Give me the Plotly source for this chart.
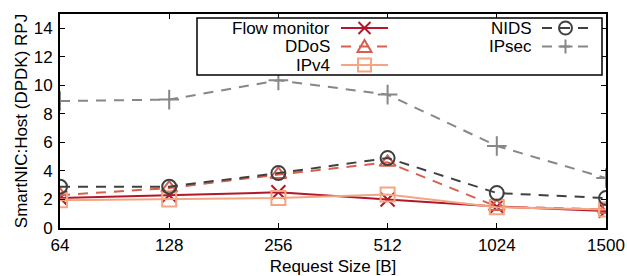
import plotly.graph_objects as go

sizes = ["64", "128", "256", "512", "1024", "1500"]
flow_monitor = [2.1, 2.3, 2.5, 2.0, 1.5, 1.2]
ddos = [2.3, 2.8, 3.75, 4.6, 1.5, 1.3]
ipv4 = [1.95, 2.0, 2.1, 2.35, 1.45, 1.3]
nids = [2.9, 2.9, 3.85, 4.9, 2.45, 2.1]
ipsec = [8.9, 9.0, 10.35, 9.35, 5.75, 3.5]

series = [
    ("Flow monitor", flow_monitor, "#b2182b", "solid", "x-thin-open"),
    ("DDoS", ddos, "#d6604d", "10px,8px", "triangle-up-open"),
    ("IPv4", ipv4, "#f4a582", "solid", "square-open"),
    ("NIDS", nids, "#404040", "10px,8px", "circle-open"),
    ("IPsec", ipsec, "#878787", "10px,8px", "cross-thin-open"),
]

FONT = "Liberation Sans, Arial, sans-serif"
FS = 17
fig = go.Figure()
for name, vals, col, dash, sym in series:
    fig.add_trace(go.Scatter(
        x=sizes, y=vals, name=name, mode="lines+markers",
        line=dict(color=col, width=2, dash=dash),
        marker=dict(symbol=sym, size=14, color=col, line=dict(color=col, width=2)),
        showlegend=False,
    ))

# plot area in pixels
L, R, T, B = 60, 606, 14, 228
def px(x):
    return (x - L) / (R - L)
def py(y):
    return (B - y) / (B - T)

shapes = []
annotations = []
# legend box
shapes.append(dict(type="rect", xref="paper", yref="paper", x0=px(197), x1=px(602),
                   y0=py(75), y1=py(18), fillcolor="white",
                   line=dict(color="black", width=1.5), layer="above"))

legend_pos = [
    (331, 341, 388, 28),
    (331, 341, 388, 46.5),
    (331, 341, 388, 65),
    (533, 542, 589, 28),
    (533, 542, 589, 46.5),
]
marker_paths = {
    "x-thin-open": "M -6,-6 L 6,6 M -6,6 L 6,-6",
    "triangle-up-open": "M -7,-5.5 L 7,-5.5 L 0,6.5 Z",
    "cross-thin-open": "M -7,0 L 7,0 M 0,-7 L 0,7",
}
for (name, vals, col, dash, sym), (tx, sx0, sx1, ry) in zip(series, legend_pos):
    annotations.append(dict(xref="paper", yref="paper", x=px(tx), y=py(ry),
                            xanchor="right", yanchor="middle", text=name, showarrow=False,
                            height=17, borderpad=0,
                            font=dict(family=FONT, size=FS, color="black")))
    shapes.append(dict(type="line", xref="paper", yref="paper", x0=px(sx0), x1=px(sx1),
                       y0=py(ry), y1=py(ry), line=dict(color=col, width=2, dash=dash),
                       layer="above"))
    cx, cy = px((sx0 + sx1) / 2), py(ry)
    common = dict(xref="paper", yref="paper", xsizemode="pixel", ysizemode="pixel",
                  xanchor=cx, yanchor=cy, line=dict(color=col, width=2), layer="above")
    if sym == "circle-open":
        shapes.append(dict(type="circle", x0=-6.5, x1=6.5, y0=-6.5, y1=6.5, **common))
    elif sym == "square-open":
        shapes.append(dict(type="rect", x0=-6.5, x1=6.5, y0=-6.5, y1=6.5, **common))
    else:
        shapes.append(dict(type="path", path=marker_paths[sym], **common))

axis_common = dict(showline=True, linecolor="black", linewidth=2, mirror="allticks",
                   ticks="inside", ticklen=5, tickwidth=1, tickcolor="black",
                   showgrid=False, zeroline=False, automargin=False,
                   tickfont=dict(family=FONT, size=FS, color="black"))

fig.update_layout(
    width=627, height=276,
    margin=dict(l=L, r=627 - R, t=T, b=276 - B),
    paper_bgcolor="white", plot_bgcolor="white",
    font=dict(family=FONT, size=FS, color="black"),
    shapes=shapes, annotations=annotations,
    xaxis=dict(type="category", range=[0, 5], ticklabelstandoff=1,
               title=dict(text="Request Size [B]", standoff=11,
                          font=dict(family=FONT, size=FS)), **axis_common),
    yaxis=dict(range=[0, 15], tickvals=list(range(0, 16, 2)), ticklabelstandoff=2,
               title=dict(text="SmartNIC:Host (DPDK) RPJ", standoff=2,
                          font=dict(family=FONT, size=FS)), **axis_common),
)
fig.write_html("out.html", config={"displayModeBar": False},
               post_script="document.body.style.margin='0';document.body.style.overflow='hidden';")
